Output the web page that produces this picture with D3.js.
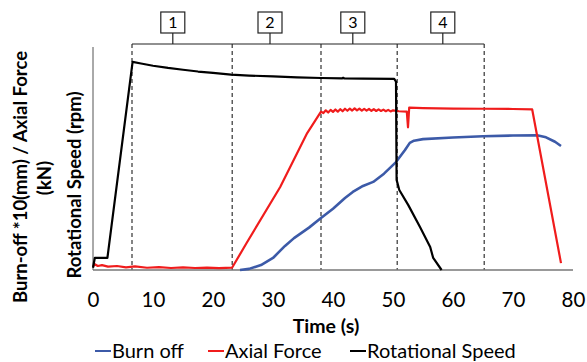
<!DOCTYPE html>
<html>
<head>
<meta charset="utf-8">
<script src="https://cdn.jsdelivr.net/npm/d3@7"></script>
<style>
  body { margin: 0; background: #fff; }
  text { font-family: Lato, "Open Sans", sans-serif; fill: #000; }
</style>
</head>
<body>
<div id="chart"></div>
<script>
// time ticks (s)
const timeTicks = [0, 10, 20, 30, 40, 50, 60, 70, 80];

// phase boundaries (dashed lines) and the boxed phase numbers
const phaseBounds = [6.5, 23.2, 38.0, 50.7, 65.2];
const phaseLabels = ["1", "2", "3", "4"];
const phaseLabelTimes = [13.3, 29.5, 43.3, 58.3];

// [time, value] - values on a 0..100 relative scale
const burnOff = [
  [24.5, 0], [26, 0.5], [28, 2.2], [30, 5.4], [32, 10.8], [33.5, 14.3], [36, 19],
  [38, 23.3], [40, 27.5], [42, 32.3], [43.3, 35], [45, 37.7], [46.7, 39.5],
  [48.5, 43.2], [50.5, 48.4], [52, 53.8], [52.8, 57], [53.5, 58], [55, 58.7],
  [60, 59.4], [65, 60], [70, 60.3], [74, 60.4], [75.5, 59.5], [77, 57.5], [78, 55.6]
];

const axialForce = [
  [0, 1.5], [0.3, 2.6], [0.8, 1.8], [1.5, 2.2], [2.5, 1.5], [4, 1.8], [5.5, 1.2], [7, 1.6],
  [9, 1.0], [11, 1.3], [13, 0.9], [15, 1.2], [17, 0.9], [19, 1.1], [21, 0.8], [23.2, 1.1],
  [25.6, 12.1], [31.2, 37.2], [35.7, 61.4], [38, 71], [38.4, 70.4], [38.8, 71.6], [39.2, 70.6],
  [39.6, 71.8], [40, 70.9], [40.4, 72], [40.8, 71], [41.2, 72.1], [41.6, 71.2], [42, 72.3],
  [42.4, 71.4], [42.8, 72.4], [43.2, 71.5], [43.6, 72.5], [44, 71.6], [44.4, 72.4], [44.8, 71.5],
  [45.2, 72.3], [45.6, 71.5], [46, 72.2], [46.4, 71.4], [46.8, 72.1], [47.2, 71.3], [47.6, 72],
  [48, 71.3], [48.4, 71.9], [48.8, 71.2], [49.2, 71.8], [49.6, 71.1], [50, 71.6],
  [51, 71.2], [52.3, 71], [52.5, 64], [52.7, 72.8], [55, 72.6], [60, 72.4], [65, 72.3],
  [70, 72.2], [73.2, 72.0], [78, 3.1]
];

const rotSpeed = [
  [0, 1], [0.3, 5.4], [2.4, 5.4], [6.6, 93.3], [8, 92.6], [10, 91.6], [12.5, 90.6],
  [15, 89.8], [17.5, 89.0], [20, 88.4], [23, 87.6], [26, 87.2], [30, 86.8], [34, 86.4],
  [38, 86.1], [41.5, 85.9], [41.7, 86.2], [41.9, 85.9], [45, 85.8], [50.2, 85.7],
  [50.5, 84.5], [50.6, 40.4], [51.05, 35.9], [52.55, 29.1], [54.5, 19.3], [56.2, 10.3],
  [56.7, 5.4], [58.1, 0]
];

const seriesNames = ["Burn off", "Axial Force", "Rotational Speed"];
const seriesColors = ["#3c5aa8", "#f01c1c", "#000000"];
const seriesWidths = [2.6, 2.2, 2.2];

const width = 587, height = 362;

const svg = d3.select("#chart")
  .append("svg")
  .attr("width", width)
  .attr("height", height);

const x = d3.scaleLinear().domain([0, 80]).range([93, 573]);
const y = d3.scaleLinear().domain([0, 100]).range([270, 47]);

// phase dashed lines
svg.selectAll(".phase")
  .data(phaseBounds)
  .enter().append("line")
  .attr("x1", d => x(d)).attr("x2", d => x(d))
  .attr("y1", 44).attr("y2", y(0))
  .attr("stroke", "#333")
  .attr("stroke-width", 1.2)
  .attr("stroke-dasharray", "4,3");

// bracket over the phases
svg.append("line")
  .attr("x1", x(phaseBounds[0])).attr("x2", x(phaseBounds[phaseBounds.length - 1]))
  .attr("y1", 44).attr("y2", 44)
  .attr("stroke", "#222")
  .attr("stroke-width", 1.2);

phaseLabels.forEach(function(label, i) {
  const cx = x(phaseLabelTimes[i]);
  svg.append("line")
    .attr("x1", cx).attr("x2", cx)
    .attr("y1", 33).attr("y2", 44)
    .attr("stroke", "#222")
    .attr("stroke-width", 1.2);
  svg.append("rect")
    .attr("x", cx - 12).attr("y", 12)
    .attr("width", 24).attr("height", 21)
    .attr("fill", "#fff")
    .attr("stroke", "#222")
    .attr("stroke-width", 1.2);
  svg.append("text")
    .attr("x", cx).attr("y", 28)
    .attr("text-anchor", "middle")
    .attr("font-size", "16px")
    .text(label);
});

// axes lines
svg.append("line")
  .attr("x1", x(0)).attr("x2", x(0))
  .attr("y1", y(100)).attr("y2", y(0))
  .attr("stroke", "#555").attr("stroke-width", 1);
svg.append("line")
  .attr("x1", x(0)).attr("x2", x(80))
  .attr("y1", y(0)).attr("y2", y(0))
  .attr("stroke", "#777").attr("stroke-width", 1.5);

// x tick labels (no tick marks)
const xAxis = d3.axisBottom(x).tickValues(timeTicks).tickSize(0).tickPadding(0);
const gx = svg.append("g")
  .attr("transform", `translate(0, ${y(0)})`)
  .call(xAxis);
gx.select(".domain").remove();
gx.selectAll("text")
  .attr("y", 37)
  .attr("dy", null)
  .attr("font-size", "20.5px")
  .style("font-family", "Lato, 'Open Sans', sans-serif");

// series lines
const line = d3.line().x(d => x(d[0])).y(d => y(d[1]));
[burnOff, axialForce, rotSpeed].forEach(function(series, i) {
  svg.append("path")
    .datum(series)
    .attr("d", line)
    .attr("fill", "none")
    .attr("stroke", seriesColors[i])
    .attr("stroke-width", seriesWidths[i])
    .attr("stroke-linejoin", "round");
});

// axis titles
svg.append("text")
  .attr("x", 326).attr("y", 333)
  .attr("text-anchor", "middle")
  .attr("font-size", "19.5px")
  .attr("font-weight", "bold")
  .text("Time (s)");

const yTitles = [
  { t: "Burn-off *10(mm) / Axial Force", bx: 27, cy: 177 },
  { t: "(kN)", bx: 51, cy: 178 },
  { t: "Rotational Speed (rpm)", bx: 81, cy: 185 }
];
yTitles.forEach(function(d) {
  svg.append("text")
    .attr("transform", `translate(${d.bx}, ${d.cy}) rotate(-90)`)
    .attr("text-anchor", "middle")
    .attr("font-size", "18.5px")
    .attr("font-weight", "bold")
    .text(d.t);
});

// legend
const legendX = [95, 208, 350];
seriesNames.forEach(function(name, i) {
  svg.append("line")
    .attr("x1", legendX[i]).attr("x2", legendX[i] + 16)
    .attr("y1", 351).attr("y2", 351)
    .attr("stroke", seriesColors[i])
    .attr("stroke-width", 2);
  svg.append("text")
    .attr("x", legendX[i] + 17).attr("y", 358)
    .attr("font-size", "20px")
    .text(name);
});
</script>
</body>
</html>
